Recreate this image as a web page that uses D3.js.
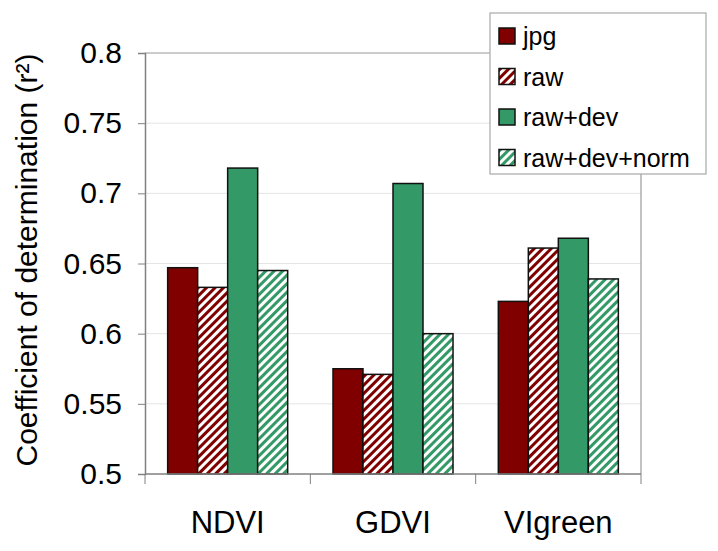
<!DOCTYPE html>
<html><head><meta charset="utf-8">
<script src="https://cdn.jsdelivr.net/npm/d3@7"></script>
<style>body{margin:0;background:#fff}svg{display:block;font-family:"Liberation Sans",Arial,sans-serif}</style>
</head><body><svg id="c" width="718" height="551"></svg>
<script>
const categories = ["NDVI", "GDVI", "VIgreen"];
const seriesNames = ["jpg", "raw", "raw+dev", "raw+dev+norm"];
const jpg = [0.647, 0.575, 0.623];
const raw = [0.633, 0.571, 0.661];
const rawDev = [0.718, 0.707, 0.668];
const rawDevNorm = [0.645, 0.600, 0.639];
const yTicks = [0.5, 0.55, 0.6, 0.65, 0.7, 0.75, 0.8];
const yTitle = "Coefficient of determination (r²)";

const seriesValues = [jpg, raw, rawDev, rawDevNorm];
const svg = d3.select("#c");
const L = 145, R = 641, T = 53, B = 474;

const defs = svg.append("defs");
function stripe(id, color) {
  const p = defs.append("pattern").attr("id", id).attr("patternUnits", "userSpaceOnUse")
    .attr("width", 6).attr("height", 6).attr("patternTransform", "rotate(45)");
  p.append("rect").attr("width", 6).attr("height", 6).attr("fill", "#fff");
  p.append("rect").attr("x", 0).attr("width", 3).attr("height", 6).attr("fill", color);
}
stripe("pRed", "#800000");
stripe("pGreen", "#339966");
const fills = ["#800000", "url(#pRed)", "#339966", "url(#pGreen)"];

const y = d3.scaleLinear().domain([0.5, 0.8]).range([B, T]);
const x0 = d3.scaleBand().domain(categories).range([L, R]).padding(0);
const x1 = d3.scaleBand().domain(seriesNames).range([0, x0.bandwidth()]).paddingInner(0).paddingOuter(0.755);

// gridlines
svg.append("g").selectAll("line").data(yTicks.filter(t => t > 0.5 && t < 0.8)).join("line")
  .attr("x1", L).attr("x2", R).attr("y1", d => y(d)).attr("y2", d => y(d))
  .attr("stroke", "#e4e4e4").attr("stroke-width", 1);
// frame top/right
svg.append("line").attr("x1", L).attr("x2", R).attr("y1", y(0.8)).attr("y2", y(0.8)).attr("stroke", "#9a9a9a").attr("stroke-width", 1.2);
svg.append("line").attr("x1", R).attr("x2", R).attr("y1", T).attr("y2", B).attr("stroke", "#9a9a9a").attr("stroke-width", 1.2);

// bars
const data = [];
categories.forEach((c, i) => seriesNames.forEach((s, j) => data.push({c, s, j, v: seriesValues[j][i]})));
svg.append("g").selectAll("rect").data(data).join("rect")
  .attr("x", d => x0(d.c) + x1(d.s)).attr("width", x1.bandwidth())
  .attr("y", d => y(d.v)).attr("height", d => y(0.5) - y(d.v))
  .attr("fill", d => fills[d.j]).attr("stroke", "#111").attr("stroke-width", 1.5);

// y axis
const ya = d3.axisLeft(y).tickValues(yTicks).tickSize(7).tickPadding(16).tickFormat(d => String(d));
const gy = svg.append("g").attr("transform", `translate(${L},0)`).call(ya);
gy.select(".domain").attr("stroke", "#808080").attr("stroke-width", 1.5);
gy.selectAll(".tick line").attr("stroke", "#808080");
gy.selectAll(".tick text").attr("font-size", 30).attr("fill", "#000").attr("font-family", "Liberation Sans, Arial, sans-serif");

// x axis
const gx = svg.append("g").attr("transform", `translate(0,${B})`);
gx.append("line").attr("x1", L).attr("x2", R).attr("stroke", "#808080").attr("stroke-width", 1.5);
const bounds = categories.map(c => x0(c)).concat([R]);
gx.selectAll("line.tk").data(bounds).join("line").attr("class", "tk")
  .attr("x1", d => d).attr("x2", d => d).attr("y1", 0).attr("y2", 10).attr("stroke", "#808080");
gx.selectAll("text").data(categories).join("text")
  .attr("x", d => x0(d) + x0.bandwidth() / 2).attr("y", 59)
  .attr("text-anchor", "middle").attr("font-size", 31).text(d => d);

// y title
svg.append("text").attr("transform", "translate(37,260) rotate(-90)")
  .attr("text-anchor", "middle").attr("font-size", 30).text(yTitle);

// legend
const lg = svg.append("g");
lg.append("rect").attr("x", 490).attr("y", 13).attr("width", 216).attr("height", 161)
  .attr("fill", "#fff").attr("stroke", "#a8a8a8").attr("stroke-width", 1.2);
const items = lg.selectAll("g.it").data(seriesNames).join("g").attr("class", "it")
  .attr("transform", (d, i) => `translate(499,${36 + i * 40.5})`);
items.append("rect").attr("x", 0).attr("y", -8).attr("width", 16).attr("height", 16)
  .attr("fill", (d, i) => fills[i]).attr("stroke", "#111").attr("stroke-width", 1.5);
items.append("text").attr("x", 24).attr("y", 9).attr("font-size", 25).text(d => d);
</script></body></html>
